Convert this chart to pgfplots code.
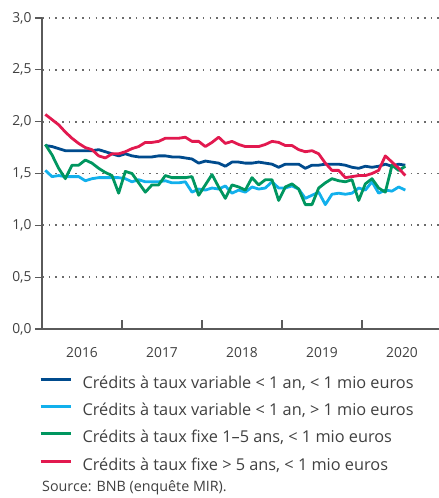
\documentclass[border=0pt]{standalone}
\usepackage{fontspec}
\setmainfont{Open Sans}
\usepackage{pgfplots}
\pgfplotsset{compat=1.18}
\usepackage{pgfplotstable}
\definecolor{cdark}{HTML}{004B8D}
\definecolor{clight}{HTML}{12B0EC}
\definecolor{cgreen}{HTML}{00965F}
\definecolor{cred}{HTML}{E2194F}
\definecolor{axgray}{HTML}{5A5A5A}
\definecolor{txgray}{HTML}{404040}
\pgfplotstableread{
x a b c d
0.5 1.77 1.53 1.78 2.07
1.5 1.76 1.47 1.68 2.02
2.5 1.74 1.48 1.55 1.97
3.5 1.72 1.47 1.45 1.90
4.5 1.72 1.47 1.58 1.84
5.5 1.72 1.47 1.58 1.79
6.5 1.72 1.43 1.63 1.75
7.5 1.72 1.45 1.60 1.73
8.5 1.73 1.46 1.55 1.67
9.5 1.71 1.46 1.51 1.65
10.5 1.69 1.46 1.48 1.69
11.5 1.67 1.46 1.31 1.69
12.5 1.69 1.45 1.52 1.71
13.5 1.67 1.42 1.50 1.74
14.5 1.66 1.44 1.41 1.76
15.5 1.66 1.42 1.32 1.80
16.5 1.66 1.42 1.39 1.80
17.5 1.67 1.42 1.39 1.81
18.5 1.67 1.43 1.48 1.84
19.5 1.66 1.41 1.46 1.84
20.5 1.66 1.41 1.46 1.84
21.5 1.65 1.42 1.46 1.85
22.5 1.64 1.32 1.47 1.81
23.5 1.60 1.35 1.29 1.81
24.5 1.62 1.34 1.39 1.76
25.5 1.61 1.36 1.49 1.80
26.5 1.60 1.35 1.37 1.85
27.5 1.57 1.38 1.26 1.79
28.5 1.61 1.31 1.39 1.81
29.5 1.61 1.34 1.37 1.78
30.5 1.60 1.32 1.34 1.76
31.5 1.60 1.37 1.46 1.76
32.5 1.61 1.35 1.39 1.76
33.5 1.60 1.36 1.44 1.78
34.5 1.59 1.42 1.44 1.81
35.5 1.56 1.36 1.24 1.80
36.5 1.59 1.36 1.37 1.77
37.5 1.59 1.38 1.40 1.77
38.5 1.59 1.35 1.35 1.73
39.5 1.55 1.26 1.20 1.71
40.5 1.58 1.29 1.20 1.72
41.5 1.58 1.32 1.36 1.69
42.5 1.59 1.20 1.41 1.60
43.5 1.59 1.30 1.45 1.53
44.5 1.59 1.31 1.43 1.53
45.5 1.58 1.30 1.42 1.46
46.5 1.56 1.31 1.44 1.47
47.5 1.55 1.36 1.24 1.48
48.5 1.57 1.34 1.40 1.48
49.5 1.56 1.42 1.45 1.50
50.5 1.57 1.31 1.36 1.53
51.5 1.59 1.34 1.32 1.67
52.5 1.57 1.33 1.58 1.61
53.5 1.59 1.37 1.53 1.55
54.5 1.58 1.34 1.57 1.48
}\rates
\begin{document}
\begin{tikzpicture}
\useasboundingbox (-42bp,-169bp) rectangle (397bp,329bp);
\begin{axis}[
  at={(0,0)}, anchor=south west,
  width=397bp, height=311bp, scale only axis,
  xmin=0, xmax=59.55, ymin=0, ymax=3,
  axis x line*=bottom, axis y line*=left,
  axis line style={draw=axgray, line width=1.1bp},
  tick style={draw=axgray, line width=1.1bp},
  tick align=outside, major tick length=7bp,
  xtick={6,18,30,42,54},
  xticklabels={2016,2017,2018,2019,2020},
  major x tick style={draw=none},
  x tick label style={yshift=-8bp},
  ytick={0,0.5,1,1.5,2,2.5,3},
  yticklabel style={/pgf/number format/.cd, fixed, fixed zerofill, precision=1, use comma},
  /pgf/number format/assume math mode=true,
  ymajorgrids,
  grid style={draw=axgray!90, line width=1.7bp, dash pattern=on 1.6bp off 5.1bp},
  tick label style={font=\fontsize{13.8bp}{15bp}\selectfont, text=txgray},
  clip=false,
  legend style={draw=none, fill=none, at={(axis description cs:-0.008,-0.15)}, anchor=north west,
    inner sep=0pt, row sep=11.5bp, column sep=10.5bp, font=\fontsize{16.3bp}{19bp}\selectfont, text=txgray,
    nodes={inner sep=0pt, text height=12.5bp, text depth=3.3bp}},
  legend cell align=left,
  legend image code/.code={\draw[#1, line width=3bp] (0bp,4.6bp) -- (30bp,4.6bp);},
  line join=round,
]
\addplot[cdark, line width=2.8bp] table[x=x,y=a]{\rates};
\addlegendentry{Crédits à taux variable < 1 an, < 1 mio euros}
\addplot[clight, line width=2.8bp] table[x=x,y=b]{\rates};
\addlegendentry{Crédits à taux variable < 1 an, > 1 mio euros}
\addplot[cgreen, line width=2.8bp] table[x=x,y=c]{\rates};
\addlegendentry{Crédits à taux fixe 1–5 ans, < 1 mio euros}
\addplot[cred, line width=2.8bp] table[x=x,y=d]{\rates};
\addlegendentry{Crédits à taux fixe > 5 ans, < 1 mio euros}
\draw[axgray, line width=1.1bp] (axis cs:12,0) -- ++(0,9bp);
\draw[axgray, line width=1.1bp] (axis cs:24,0) -- ++(0,9bp);
\draw[axgray, line width=1.1bp] (axis cs:36,0) -- ++(0,9bp);
\draw[axgray, line width=1.1bp] (axis cs:48,0) -- ++(0,9bp);
\draw[axgray, line width=1.1bp] (axis cs:0,0) -- ++(-7bp,0);
\draw[axgray, line width=1.1bp] (axis cs:0,0.5) -- ++(-7bp,0);
\draw[axgray, line width=1.1bp] (axis cs:0,1) -- ++(-7bp,0);
\draw[axgray, line width=1.1bp] (axis cs:0,1.5) -- ++(-7bp,0);
\draw[axgray, line width=1.1bp] (axis cs:0,2) -- ++(-7bp,0);
\draw[axgray, line width=1.1bp] (axis cs:0,2.5) -- ++(-7bp,0);
\draw[axgray, line width=1.1bp] (axis cs:0,3) -- ++(-7bp,0);
\end{axis}
\node[anchor=base west, inner sep=0pt, text=txgray, font=\fontsize{14.3bp}{16bp}\selectfont] at (0bp,-162bp) {Source: BNB (enquête MIR).};
\end{tikzpicture}
\end{document}
